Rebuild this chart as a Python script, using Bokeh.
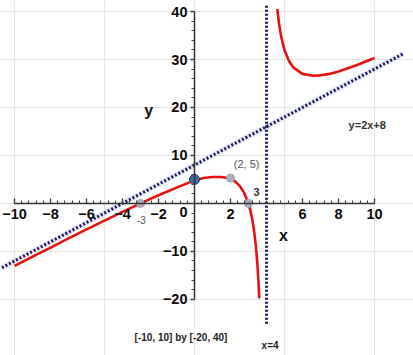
import numpy as np
from bokeh.plotting import figure
from bokeh.models import LinearAxis, FixedTicker, Range1d, Label
from bokeh.embed import file_html
from bokeh.resources import INLINE

# ---- data ----
left_x = [-10, -9, -8, -7, -6, -5, -4, -3, -2, -1, 0, 0.5, 1, 1.5, 2, 2.25, 2.5, 2.75,
          3, 3.1, 3.2, 3.3, 3.4, 3.45, 3.5, 3.55, 3.6]
left_y = [-13.0, -11.1, -9.2, -7.3, -5.4, -3.6, -1.75, 0.0, 1.7, 3.3, 4.8, 5.3, 5.5, 5.5, 5.2,
          4.6, 3.7, 2.3, 0.0, -1.4, -3.1, -5.4, -8.5, -10.6, -13.0, -16.0, -19.8]
right_x = [4.6, 4.7, 4.8, 4.9, 5.0, 5.25, 5.5, 6.0, 6.6, 7.0, 7.5, 8.0, 9.0, 10.0]
right_y = [40.5, 37.4, 35.1, 33.4, 32.0, 29.7, 28.3, 27.0, 26.6, 26.7, 27.0, 27.5, 28.8, 30.3]
slant_x = [-10.7, 11.6]
slant_y = [-13.4, 31.2]
vert_x = [4, 4]
vert_y = [41.2, -25.4]
key_x = [0]
key_y = [5.0]
mark_x = [-3, 2, 3]
mark_y = [0, 5.3, 0]
x_ticks = [-10, -8, -6, -4, -2, 2, 6, 8, 10]
y_ticks = [-20, -10, 10, 20, 30, 40]

FONT = "Liberation Sans"

p = figure(width=413, height=355,
           x_range=Range1d(-10.78, 12.17), y_range=Range1d(-31.7, 42.3),
           x_axis_location=None, y_axis_location=None,
           toolbar_location=None, output_backend="svg", min_border=0,
           outline_line_color=None, background_fill_color="white", tools="")

def style_axis(ax):
    ax.axis_line_color = "#333333"
    ax.axis_line_width = 1.5
    ax.major_tick_line_color = "#333333"
    ax.minor_tick_line_color = "#444444"
    ax.major_tick_line_width = 1.3
    ax.minor_tick_line_width = 1.1
    ax.major_label_text_font = FONT
    ax.major_label_text_font_style = "bold"
    ax.major_label_text_font_size = "14.5px"
    ax.major_label_text_color = "#0a0a0a"

xaxis = LinearAxis(fixed_location=0, bounds=(-10, 10),
                   ticker=FixedTicker(ticks=x_ticks,
                                      minor_ticks=[float(v) for v in np.arange(-10, 10.01, 0.4)]))
style_axis(xaxis)
xaxis.major_tick_in = 5
xaxis.major_tick_out = 0
xaxis.minor_tick_in = 3
xaxis.minor_tick_out = 0
xaxis.major_label_standoff = 6
p.add_layout(xaxis, "below")

yaxis = LinearAxis(fixed_location=0, bounds=(-20, 40),
                   ticker=FixedTicker(ticks=y_ticks,
                                      minor_ticks=[float(v) for v in np.arange(-20, 40.01, 2)]))
style_axis(yaxis)
yaxis.major_tick_in = 0
yaxis.major_tick_out = 4
yaxis.minor_tick_in = 0
yaxis.minor_tick_out = 3
yaxis.major_label_standoff = 3
p.add_layout(yaxis, "left")

# asymptotes
p.line(slant_x, slant_y, line_color="#dcdfe6", line_width=6, line_alpha=0.6)
p.line(slant_x, slant_y, line_color="#15165e", line_width=3, line_dash="2 2")
p.line(vert_x, vert_y, line_color="#15165e", line_width=3, line_dash="2 2")

# curve
p.line(left_x, left_y, line_color="#e8100e", line_width=2.6)
p.line(right_x, right_y, line_color="#e8100e", line_width=2.6)

# points
p.scatter(mark_x, mark_y, size=8, fill_color="#aab0bd", line_color="#9aa0ad")
p.scatter(key_x, key_y, size=10, fill_color="#3f6c9f", line_color="#1e3f6b", line_width=1)

def lab(x, y, text, size, color="#222222", bold=True, align="center", baseline="middle"):
    p.add_layout(Label(x=x, y=y, text=text, text_font=FONT, text_font_size=size,
                       text_font_style="bold" if bold else "normal", text_color=color,
                       text_align=align, text_baseline=baseline))

p.add_layout(Label(x=0, y=0, text="0", text_font=FONT, text_font_size="14.5px",
                   text_font_style="bold", text_color="#0a0a0a", text_align="right",
                   text_baseline="top", x_offset=-7, y_offset=-4))
lab(-2.55, 19.4, "y", "16px", "#111111")
lab(4.95, -6.7, "x", "16px", "#111111")
lab(9.6, 16.4, "y=2x+8", "11px", "#333333")
lab(2.9, 8.2, "(2, 5)", "11px", "#555555", bold=False)
lab(3.45, 2.4, "3", "11px", "#333333")
lab(-2.95, -3.4, "-3", "10px", "#555555", bold=False)
lab(-0.75, -27.9, "[-10, 10] by [-20, 40]", "10px", "#222222")
lab(4.2, -29.6, "x=4", "10px", "#222222")

open("out.html", "w").write(file_html(p, INLINE))
